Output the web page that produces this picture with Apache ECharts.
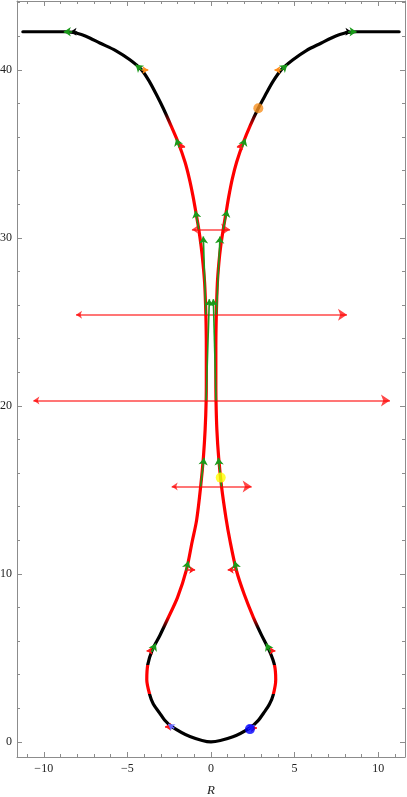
<!DOCTYPE html>
<html>
<head>
<meta charset="utf-8">
<script src="https://cdn.jsdelivr.net/npm/echarts@6/dist/echarts.min.js"></script>
<style>html,body{margin:0;padding:0;background:#fff;}#main{width:407px;height:797px;}</style>
</head>
<body>
<div id="main"></div>
<script>
// ---- axis extents and ticks ----
const xRange = [-11.6, 11.6];
const yRange = [-0.9, 44.1];
const xMajorTicks = [-10, -5, 0, 5, 10];
const xMinorTicks = [-11,-10,-9,-8,-7,-6,-5,-4,-3,-2,-1,0,1,2,3,4,5,6,7,8,9,10,11];
const yMajorTicks = [0, 10, 20, 30, 40];
const yMinorTicks = [0,2,4,6,8,10,12,14,16,18,20,22,24,26,28,30,32,34,36,38,40,42,44];
const xAxisName = 'R';

// ---- the curve: left branch (from the top-left end down to the bottom) ----
const leftX = [-11.25,-10.0,-8.75,-8.25,-7.75,-7.25,-6.65,-5.7,-4.85,-4.15,-3.68,-3.25,-2.85,-2.4,-1.95,-1.55,-1.29,-1.08,-0.9,-0.73,-0.59,-0.48,-0.38,-0.31,-0.28,-0.28,-0.29,-0.35,-0.45,-0.62,-0.86,-1.13,-1.47,-2.0,-2.6,-3.05,-3.52,-3.78,-3.84,-3.66,-3.45,-3.08,-2.78,-2.35,-1.26];
const leftY = [42.27,42.27,42.27,42.23,42.1,41.9,41.6,41.15,40.6,40.0,39.3,38.5,37.7,36.7,35.65,34.5,33.5,32.5,31.5,30.5,29.5,28.5,27.3,25.5,23.5,21.5,20.3,18.6,17.0,15.18,13.2,11.9,10.24,8.6,7.3,6.35,5.45,4.6,3.7,2.8,2.25,1.73,1.3,0.91,0.32];
// bottom point
const bottomPoint = [0, 0];
// right branch (from the bottom up to the top-right end)
const rightX = [1.31,2.33,2.8,3.15,3.5,3.72,3.87,3.8,3.5,3.0,2.52,1.98,1.52,1.13,0.9,0.63,0.46,0.35,0.30,0.29,0.29,0.32,0.38,0.47,0.58,0.73,0.9,1.07,1.27,1.53,1.92,2.35,2.82,3.25,3.7,4.2,4.9,5.7,6.6,7.2,7.7,8.2,8.7,10.0,11.25];
const rightY = [0.30,0.83,1.25,1.72,2.25,2.8,3.7,4.55,5.4,6.4,7.44,8.8,10.2,12.0,13.3,15.2,16.9,18.6,20.3,21.5,23.5,25.5,27.3,28.5,29.5,30.5,31.5,32.5,33.5,34.5,35.65,36.7,37.7,38.5,39.3,40.0,40.6,41.15,41.6,41.9,42.1,42.23,42.27,42.27,42.27];

// colour changes of the curve along its height (y), top to bottom
const colorBreakY = [37.45, 36.6, 7.45, 6.75, 4.6, 4.58, 2.85, 2.83];
const colorBreakColors = ['#000000','#ff0000','#ff0000','#000000','#000000','#ff0000','#ff0000','#000000'];

// ---- long horizontal double arrows: [y, xLeft, xRight] ----
const spanArrows = [
  [30.5, -1.14, 1.14],
  [25.42, -8.07, 8.13],
  [20.32, -10.62, 10.7],
  [15.2, -2.35, 2.43]
];

// ---- small vectors: [x0, y0, x1, y1] ----
const greenVectors = [
  [-8.3,42.27,-8.8,42.27], [-4.15,40.0,-4.5,40.3], [-1.9,35.4,-2.08,35.9], [-0.73,30.5,-0.93,31.6],
  [-0.31,25.42,-0.46,30.08], [-0.29,20.32,-0.10,26.35], [-0.62,15.2,-0.42,16.9], [-1.5,10.2,-1.36,10.75],
  [-3.55,5.35,-3.3,5.85],
  [8.2,42.27,8.7,42.27], [4.2,40.0,4.56,40.3], [1.87,35.4,2.05,35.9], [0.73,30.5,0.97,31.65],
  [0.32,25.42,0.54,30.08], [0.30,20.32,0.14,26.35], [0.63,15.2,0.44,16.9], [1.55,10.2,1.42,10.75],
  [3.55,5.35,3.3,5.85]
];
const redVectors = [
  [-1.95,35.45,-1.55,35.45], [1.92,35.45,1.55,35.45],
  [-1.5,10.24,-0.95,10.24], [1.55,10.24,1.0,10.24],
  [-3.55,5.42,-3.85,5.42], [3.55,5.42,3.85,5.42],
  [-2.35,0.9,-2.75,0.9], [2.35,0.82,2.75,0.82]
];
const orangeVectors = [
  [-4.15,40.0,-3.75,40.0], [4.2,40.0,3.8,40.0]
];
const blueVectors = [
  [-2.2,0.8,-2.55,1.05], [2.2,0.75,2.6,1.0]
];
const blackVectors = [
  [-8.0,42.27,-8.4,42.27], [8.0,42.27,8.4,42.27]
];

// ---- marked points ----
const orangePoint = [2.83, 37.72];
const yellowPoint = [0.58, 15.73];
const bluePoint = [2.33, 0.76];

// ================= chart =================
const FONT = '"Liberation Serif","DejaVu Serif",serif';
const FRAME = '#8c8c8c';
const fmt = v => (v < 0 ? '\u2212' + Math.abs(v) : String(v));

function xAx(pos, ticks, len, showLine, showLabel) {
  return {
    type: 'value', position: pos, min: xRange[0], max: xRange[1],
    axisLine: { show: showLine, onZero: false, lineStyle: { color: FRAME, width: 1 } },
    axisTick: { show: true, inside: true, length: len, customValues: ticks, lineStyle: { color: FRAME, width: 1 } },
    axisLabel: { show: showLabel, customValues: ticks, formatter: fmt, color: '#222', fontFamily: FONT, fontSize: 12, margin: 6 },
    splitLine: { show: false },
    name: showLabel ? xAxisName : '',
    nameLocation: 'middle', nameGap: 27,
    nameTextStyle: { fontStyle: 'italic', fontFamily: FONT, fontSize: 13, color: '#222' }
  };
}
function yAx(pos, ticks, len, showLine, showLabel) {
  return {
    type: 'value', position: pos, min: yRange[0], max: yRange[1],
    axisLine: { show: showLine, onZero: false, lineStyle: { color: FRAME, width: 1 } },
    axisTick: { show: true, inside: true, length: len, customValues: ticks, lineStyle: { color: FRAME, width: 1 } },
    axisLabel: { show: showLabel, customValues: ticks, formatter: fmt, color: '#222', fontFamily: FONT, fontSize: 12, margin: 5 },
    splitLine: { show: false }
  };
}

function vecSeries(list, color, width, size, z) {
  return {
    type: 'lines', coordinateSystem: 'cartesian2d', xAxisIndex: 0, yAxisIndex: 0,
    polyline: false, silent: true, z: z,
    symbol: ['none', 'arrow'], symbolSize: size,
    lineStyle: { color: color, width: width, opacity: 1, curveness: 0 },
    data: list.map(v => ({ coords: [[v[0], v[1]], [v[2], v[3]]] }))
  };
}

const curveData = []
  .concat(leftX.map((x, i) => [x, leftY[i]]))
  .concat([bottomPoint])
  .concat(rightX.map((x, i) => [x, rightY[i]]));

const option = {
  animation: false,
  backgroundColor: '#ffffff',
  grid: { left: 17, right: 2, top: 1, bottom: 40, containLabel: false, outerBoundsMode: 'none' },
  xAxis: [
    xAx('bottom', xMajorTicks, 5, true, true),
    xAx('bottom', xMinorTicks, 3, false, false),
    xAx('top', xMajorTicks, 5, true, false),
    xAx('top', xMinorTicks, 3, false, false)
  ],
  yAxis: [
    yAx('left', yMajorTicks, 5, true, true),
    yAx('left', yMinorTicks, 3, false, false),
    yAx('right', yMajorTicks, 5, true, false),
    yAx('right', yMinorTicks, 3, false, false)
  ],
  series: [
    {
      type: 'lines', coordinateSystem: 'cartesian2d', xAxisIndex: 0, yAxisIndex: 0,
      silent: true, z: 1, symbol: ['arrow', 'arrow'], symbolSize: [6, 9],
      lineStyle: { color: 'rgba(255,0,0,0.72)', width: 1.6, opacity: 1 },
      data: spanArrows.map(a => ({ coords: [[a[1], a[0]], [a[2], a[0]]] }))
    },
    {
      id: 'curve', type: 'line', xAxisIndex: 0, yAxisIndex: 0, z: 2,
      data: curveData, showSymbol: false, smooth: 0.3, silent: true,
      lineStyle: { width: 3.2, color: '#000', cap: 'round', join: 'round' }
    },
    vecSeries(redVectors, '#ff1a1a', 1.6, [5, 6], 3),
    vecSeries(orangeVectors, '#ff8c1a', 1.6, [5, 6], 3),
    vecSeries(blueVectors, '#6a6aff', 1.6, [5, 6], 3),
    vecSeries(blackVectors, '#000000', 1.6, [6, 6], 3),
    vecSeries(greenVectors, '#1a9a1a', 1.6, [5, 7], 4),
    {
      type: 'scatter', xAxisIndex: 0, yAxisIndex: 0, z: 5, silent: true,
      symbol: 'circle', symbolSize: 10,
      data: [
        { value: orangePoint, itemStyle: { color: '#f7901e' } },
        { value: yellowPoint, itemStyle: { color: '#ffff00' } },
        { value: bluePoint, itemStyle: { color: '#0000ff' } }
      ]
    }
  ]
};

const chart = echarts.init(document.getElementById('main'), null, { renderer: 'canvas' });
chart.setOption(option);

// vertical colour gradient of the curve, in pixel coordinates
function py(y) { return chart.convertToPixel({ xAxisIndex: 0, yAxisIndex: 0 }, [0, y])[1]; }
const pTop = py(yRange[1]), pBot = py(yRange[0]);
const stops = [{ offset: 0, color: '#000000' }];
colorBreakY.forEach((y, i) => stops.push({ offset: (py(y) - pTop) / (pBot - pTop), color: colorBreakColors[i] }));
stops.push({ offset: 1, color: '#000000' });
chart.setOption({
  series: [{ id: 'curve', lineStyle: { color: new echarts.graphic.LinearGradient(0, pTop, 0, pBot, stops, true) } }]
});
</script>
</body>
</html>
